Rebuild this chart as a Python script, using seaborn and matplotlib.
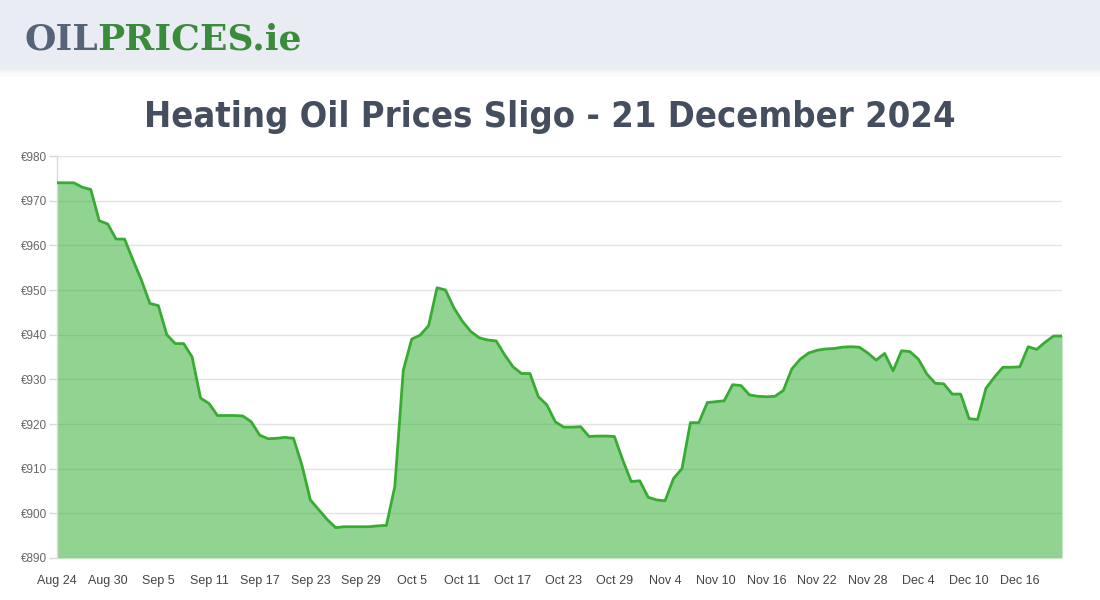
import numpy as np
import pandas as pd
import matplotlib
matplotlib.use('Agg')
import matplotlib.pyplot as plt
import seaborn as sns
from matplotlib.patches import Rectangle
from matplotlib.text import Annotation

# daily prices (Aug 24 -> Dec 21, 2024)
start_date = '2024-08-24'
prices = [
    974.0, 974.0, 974.0, 973.0, 972.5, 965.5, 964.8, 961.4, 961.4, 956.7,
    952.2, 947.0, 946.5, 940.0, 938.0, 938.0, 935.0, 925.8, 924.6, 921.9,
    921.9, 921.9, 921.8, 920.5, 917.5, 916.7, 916.8, 917.0, 916.8, 910.8,
    903.0, 900.8, 898.6, 896.8, 897.0, 897.0, 897.0, 897.0, 897.2, 897.3,
    906.0, 932.0, 939.0, 939.9, 942.0, 950.5, 950.0, 946.0, 943.0, 940.7,
    939.3, 938.8, 938.6, 935.5, 932.8, 931.3, 931.3, 926.1, 924.3, 920.5,
    919.3, 919.3, 919.4, 917.2, 917.3, 917.3, 917.2, 911.9, 907.1, 907.3,
    903.6, 903.0, 902.8, 907.8, 910.0, 920.3, 920.3, 924.8, 925.0, 925.2,
    928.8, 928.6, 926.5, 926.2, 926.1, 926.2, 927.5, 932.3, 934.5, 935.9,
    936.5, 936.8, 936.9, 937.2, 937.3, 937.2, 935.9, 934.3, 935.8, 931.9,
    936.4, 936.2, 934.5, 931.2, 929.1, 929.0, 926.7, 926.7, 921.2, 921.0,
    928.0, 930.5, 932.7, 932.7, 932.8, 937.3, 936.7, 938.3, 939.7, 939.7,
]
tick_labels = ['Aug 24', 'Aug 30', 'Sep 5', 'Sep 11', 'Sep 17', 'Sep 23', 'Sep 29',
               'Oct 5', 'Oct 11', 'Oct 17', 'Oct 23', 'Oct 29', 'Nov 4', 'Nov 10',
               'Nov 16', 'Nov 22', 'Nov 28', 'Dec 4', 'Dec 10', 'Dec 16']
y_ticks = [890, 900, 910, 920, 930, 940, 950, 960, 970, 980]
title = 'Heating Oil Prices Sligo - 21 December 2024'

dates = pd.date_range(start_date, periods=len(prices), freq='D')
df = pd.DataFrame({'date': dates, 'price': prices})

sns.set_theme(style='white')
plt.rcParams['font.family'] = ['Liberation Sans', 'DejaVu Sans']

fig = plt.figure(figsize=(11, 6), dpi=100)
fig.patch.set_facecolor('white')

# header band with soft shadow
for i, a in enumerate([0.05, 0.035, 0.02, 0.01]):
    fig.patches.append(Rectangle((0, 1 - (71 + i * 2) / 600), 1, 2 / 600,
                                 transform=fig.transFigure, color='black', alpha=a, lw=0))
fig.patches.append(Rectangle((0, 1 - 70 / 600), 1, 70 / 600, transform=fig.transFigure,
                             color='#e9ecf3', lw=0))

ax = fig.add_axes([57 / 1100, 42 / 600, 1005 / 1100, 402 / 600])
ax.set_axisbelow(True)
ax.yaxis.grid(True, color='#e3e3e3', lw=1)
ax.fill_between(df['date'], df['price'], 890, color='#25ab25', alpha=0.5, lw=0, zorder=2)
sns.lineplot(data=df, x='date', y='price', color='#38ab32', lw=2, ax=ax, zorder=3)

ax.set_xlim(dates[0], dates[-1])
ax.set_ylim(890, 980)
ax.set_yticks(y_ticks)
ax.set_yticklabels([f'€{v}' for v in y_ticks], fontsize=8.5, color='#666666')
ax.set_xticks(dates[::6])
ax.set_xticklabels(tick_labels, fontsize=9, color='#444444')
ax.tick_params(axis='y', length=6, width=1, color='#d9d9d9', pad=1, left=True)
ax.tick_params(axis='x', length=0, pad=12)
ax.set_xlabel('')
ax.set_ylabel('')
for side in ['top', 'right', 'bottom']:
    ax.spines[side].set_visible(False)
ax.spines['left'].set_color('#d9d9d9')
ax.spines['left'].set_linewidth(1)

fig.text(0.5, 1 - 117 / 600, title, ha='center', va='center', fontsize=26,
         color='#454e5e', family=['DejaVu Sans'], fontstretch='condensed',
         fontweight='bold')

# logo
oil = fig.text(24 / 1100, 1 - 56 / 600, 'OIL', ha='left', va='bottom', fontsize=26,
               fontweight='bold', color='#566378', family=['DejaVu Serif'], zorder=5)
prices_txt = Annotation('PRICES.ie', xy=(1, 0), xycoords=oil, ha='left', va='bottom',
                        fontsize=26, fontweight='bold', color='#3a8b3c',
                        family=['DejaVu Serif'], annotation_clip=False, zorder=5)
fig.add_artist(prices_txt)

plt.savefig('out.png', dpi=100)
plt.close()
